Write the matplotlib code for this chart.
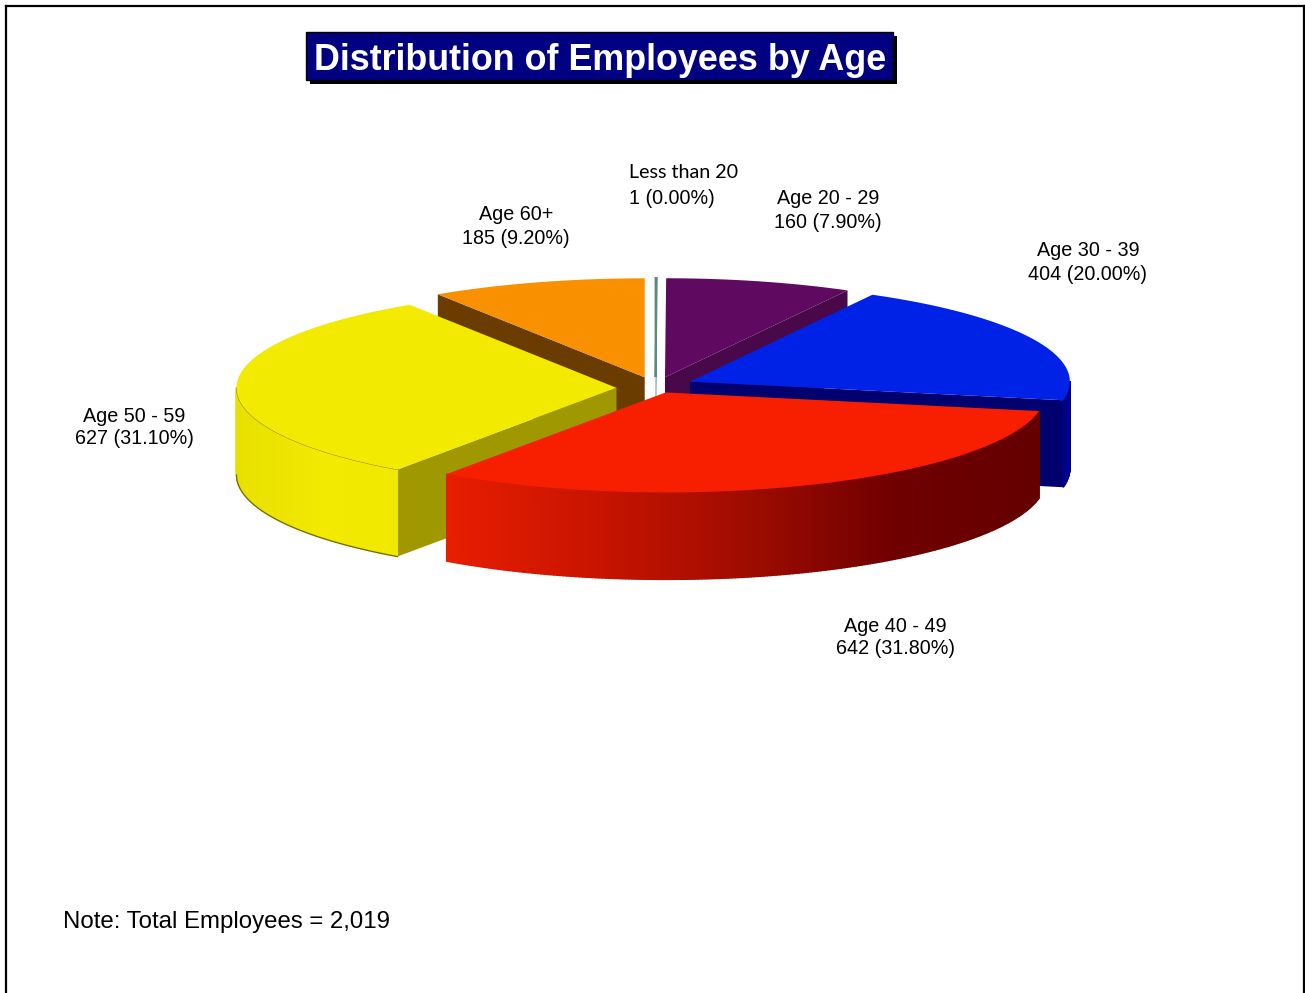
from __future__ import annotations

import matplotlib
import numpy as np

matplotlib.use("Agg")

from matplotlib import patches, pyplot as plt  # noqa: E402
from matplotlib.colors import LinearSegmentedColormap  # noqa: E402

# data, clockwise from 12 o'clock
categories = ["Less than 20", "Age 20 - 29", "Age 30 - 39", "Age 40 - 49", "Age 50 - 59", "Age 60+"]
counts = [1, 160, 404, 642, 627, 185]
percent_labels = ["0.00%", "7.90%", "20.00%", "31.80%", "31.10%", "9.20%"]
title_text = "Distribution of Employees by Age"
note_text = "Note: Total Employees = 2,019"

top_colors = ["#5f8a80", "#5f0a60", "#0022e6", "#f81e00", "#f2ea00", "#f89000"]
face_colors = ["#5f8a80", "#48084a", "#00006e", "#8a0c00", "#a09800", "#6a3c00"]
wall_colors = [
    ["#5f8a80", "#5f8a80"],
    ["#48084a", "#48084a"],
    ["#000080", "#00008a"],
    ["#e81e00", "#c81400", "#a00c00", "#700000", "#640000"],
    ["#e8e000", "#f2ea00", "#f0e800"],
    ["#6a3c00", "#6a3c00"],
]
# label text positions in pixels: (x, y of name line, y of value line, ha)
label_spots = [
    (629, 173, 199, "left"),
    (828, 199, 222, "center"),
    (1088, 251, 274, "center"),
    (895, 626, 649, "center"),
    (134, 416, 439, "center"),
    (516, 215, 238, "center"),
]
draw_order = [0, 5, 1, 2, 4, 3]
apex_nudge = [(0, 0), (0, 0), (0, 0), (-4, 0), (-1, 3), (0, 0)]

CENTER_X, CENTER_Y = 655.5, 385.0
RADIUS_X = 380.0
RADIUS_BACK, RADIUS_FRONT = 99.0, 100.0
DEPTH = 87.0
EXPLODE_X, EXPLODE_Y = 38.0, 8.0


def rim(theta_deg, apex):
    # theta is clockwise from straight up, y grows downward in pixel space
    theta = np.radians(theta_deg)
    cos_t = np.cos(theta)
    ry = np.where(cos_t > 0, RADIUS_BACK, RADIUS_FRONT)
    return apex[0] + RADIUS_X * np.sin(theta), apex[1] - ry * cos_t


def index_z(index):
    return 2 + draw_order.index(index)


def draw_wedge(axis, start, end, index):
    mid = np.radians((start + end) / 2)
    apex = (
        CENTER_X + EXPLODE_X * np.sin(mid) + apex_nudge[index][0],
        CENTER_Y - EXPLODE_Y * np.cos(mid) + apex_nudge[index][1],
    )
    thetas = np.linspace(start, end, max(int((end - start) * 2), 2) + 1)
    xs, ys = rim(thetas, apex)
    edge = top_colors[index] if index == 0 else "none"

    # cut faces that look toward the viewer
    for angle, visible in ((start, np.sin(np.radians(start)) < 0), (end, np.sin(np.radians(end)) > 0)):
        if not visible:
            continue
        rx, ry = rim(angle, apex)
        face = [(apex[0], apex[1]), (rx, ry), (rx, ry + DEPTH), (apex[0], apex[1] + DEPTH)]
        axis.add_patch(patches.Polygon(face, closed=True, facecolor=face_colors[index], edgecolor="none", zorder=index_z(index)))

    # outer wall, shaded left to right with thin quads
    cmap = LinearSegmentedColormap.from_list("wall", wall_colors[index])
    low, high = xs.min(), xs.max()
    for k in range(len(thetas) - 1):
        if thetas[k + 1] <= 90 or thetas[k] >= 270:
            continue
        quad = [(xs[k], ys[k]), (xs[k + 1], ys[k + 1]), (xs[k + 1], ys[k + 1] + DEPTH), (xs[k], ys[k] + DEPTH)]
        shade = cmap(((xs[k] + xs[k + 1]) / 2 - low) / max(high - low, 1.0))
        axis.add_patch(patches.Polygon(quad, closed=True, facecolor=shade, edgecolor=shade, linewidth=1.0, zorder=index_z(index)))

    # thin dark line along the yellow slice base
    if index == 4:
        mask = (thetas >= 215) & (thetas <= 270)
        axis.plot(xs[mask], ys[mask] + DEPTH, color="#6f6a00", linewidth=0.9, zorder=index_z(index))
        axis.plot(xs[mask], ys[mask], color="#8a8600", linewidth=0.7, zorder=index_z(index))

    top = [apex] + list(zip(xs, ys))
    axis.add_patch(patches.Polygon(top, closed=True, facecolor=top_colors[index], edgecolor=edge, linewidth=1.4, zorder=index_z(index) + 0.5))


figure = plt.figure(figsize=(13.05, 9.93), dpi=100)
axis = figure.add_axes([0, 0, 1, 1])
axis.set_xlim(0, 1305)
axis.set_ylim(993, 0)
axis.set_axis_off()

# page frame
axis.plot([6, 6], [993, 6], color="black", linewidth=1.6, zorder=1)
axis.plot([6, 1304], [6, 6], color="black", linewidth=1.6, zorder=1)
axis.plot([1304, 1304], [6, 993], color="black", linewidth=1.6, zorder=1)

# title box with its drop shadow
axis.add_patch(patches.Rectangle((310, 36), 587, 48, facecolor="black", edgecolor="none", zorder=10))
axis.add_patch(patches.Rectangle((306, 32), 587, 48, facecolor="#000080", edgecolor="black", linewidth=1.0, zorder=11))
axis.text(600, 60, title_text, color="white", fontsize=25.8, fontweight="bold", family="Liberation Sans", ha="center", va="center", zorder=12)

total = sum(counts)
edges = np.concatenate([[0.0], np.cumsum(counts)]) / total * 360.0
for index in draw_order:
    draw_wedge(axis, edges[index], edges[index + 1], index)

for index, name in enumerate(categories):
    x, name_y, value_y, ha = label_spots[index]
    family = "Lato" if index == 0 else "Liberation Sans"
    axis.text(x, name_y, name, fontsize=14.2 if index == 0 else 14.2, family=family, ha=ha, va="center", color="black", zorder=20)
    axis.text(x, value_y, f"{counts[index]} ({percent_labels[index]})", fontsize=14.2, family="Liberation Sans", ha=ha, va="center", color="black", zorder=20)

axis.text(63, 922, note_text, fontsize=17.3, family="Liberation Sans", ha="left", va="center", color="black", zorder=20)

figure.savefig("out.png", dpi=100)
plt.close(figure)
